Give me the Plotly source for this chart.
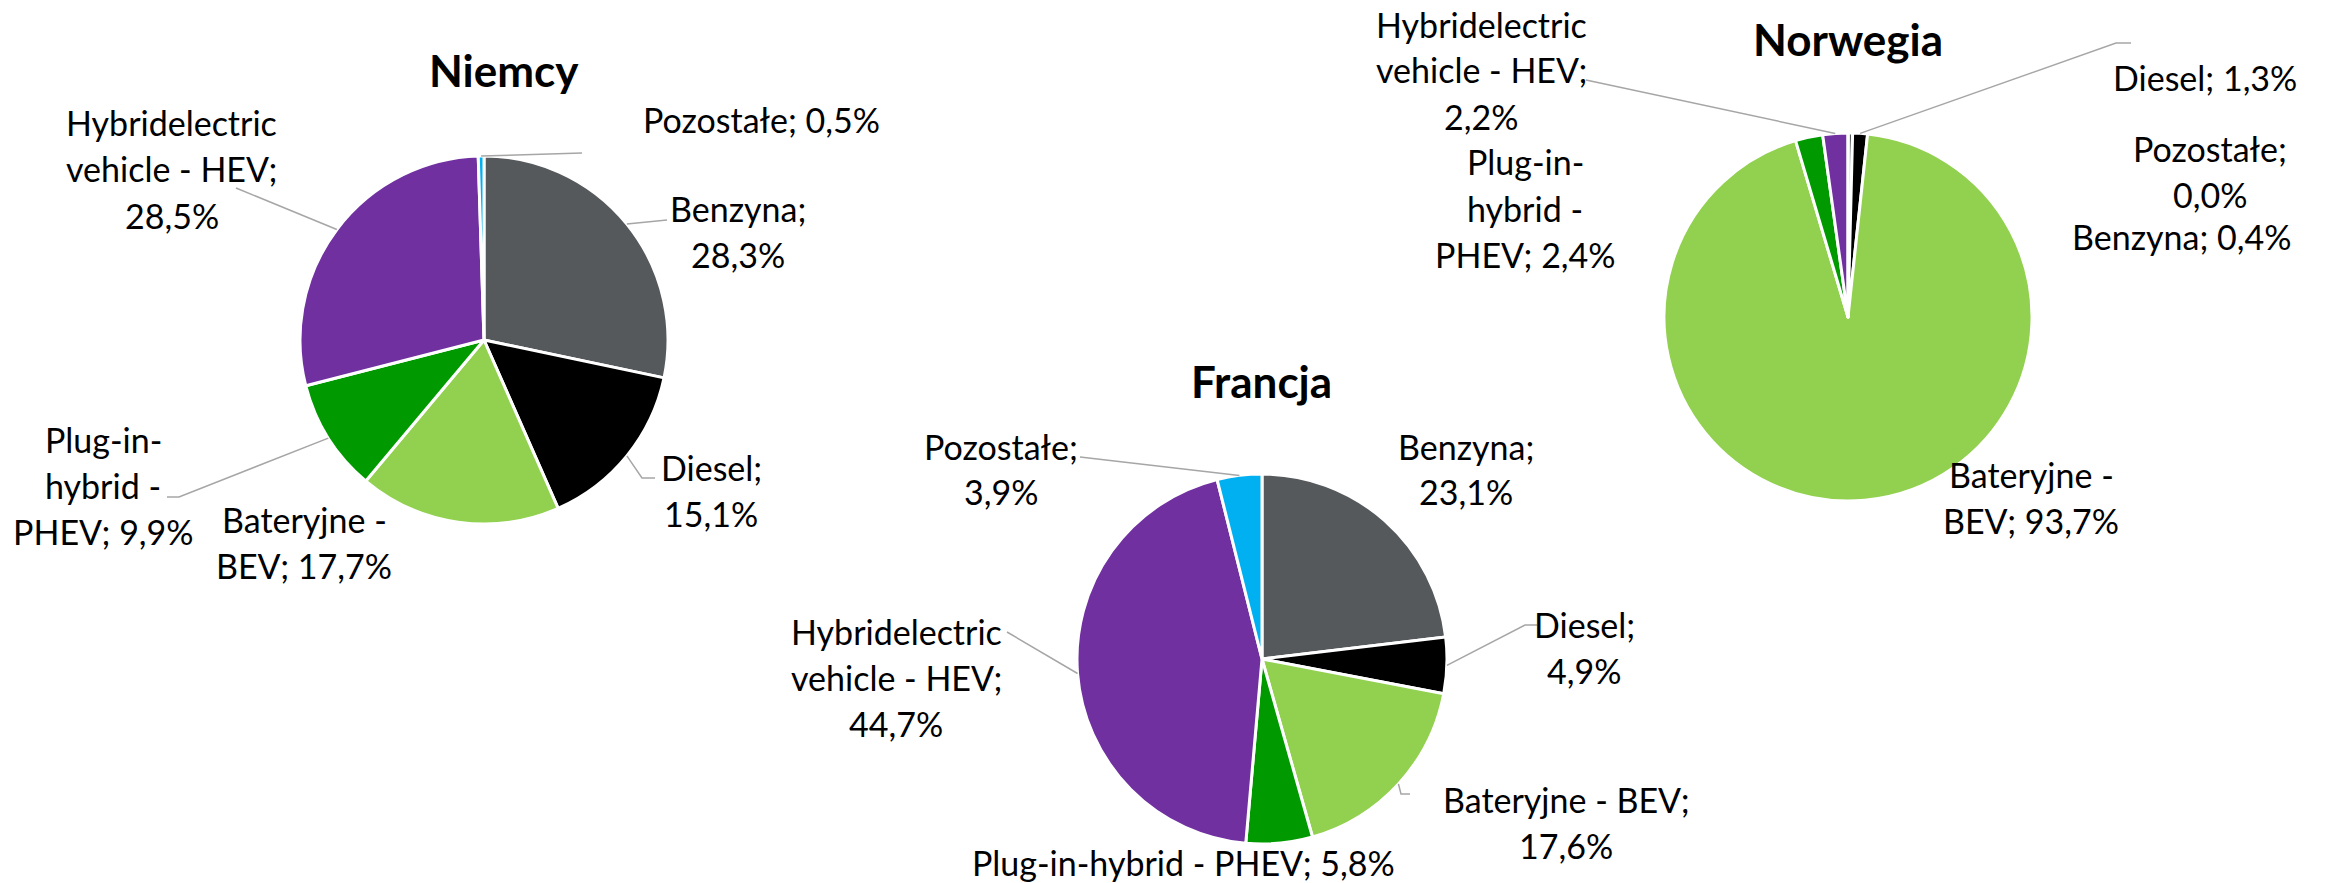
import math
import plotly.graph_objects as go

# ---------------- data ----------------
categories = ["Benzyna", "Diesel", "Bateryjne - BEV", "Plug-in-hybrid - PHEV",
              "Hybridelectric vehicle - HEV", "Pozostałe"]
countries = ["Niemcy", "Francja", "Norwegia"]
niemcy = [28.3, 15.1, 17.7, 9.9, 28.5, 0.5]
francja = [23.1, 4.9, 17.6, 5.8, 44.7, 3.9]
norwegia = [0.4, 1.3, 93.7, 2.4, 2.2, 0.0]
values = {"Niemcy": niemcy, "Francja": francja, "Norwegia": norwegia}

colors = ["#55595C", "#000000", "#92D050", "#009A00", "#7030A0", "#00B0F0"]

W, H = 2326, 883
FONT = "Lato, Carlito, Calibri, sans-serif"
LABEL_SIZE = 34
TITLE_SIZE = 44
LINE_STEP = 46
LEADER = "#A6A6A6"

# ---------------- layout (pixel geometry) ----------------
pies = {
    "Niemcy": dict(cx=484, cy=340, r=184, title=(504, 70)),
    "Francja": dict(cx=1262, cy=659, r=185, title=(1261, 381)),
    "Norwegia": dict(cx=1848, cy=317, r=184, title=(1848, 39)),
}

# label templates: lines, block centre (px), leader path points after slice point
labels = {
    "Niemcy": [
        (["Benzyna;", "{v}"], (738, 231), [(667, 220)]),
        (["Diesel;", "{v}"], (711, 490), [(642, 478), (655, 478)]),
        (["Bateryjne -", "BEV; {v}"], (304, 542), []),
        (["Plug-in-", "hybrid -", "PHEV; {v}"], (103, 485), [(179, 497), (167, 497)]),
        (["Hybridelectric", "vehicle - HEV;", "{v}"], (172, 169), [(236, 188)]),
        (["Pozostałe; {v}"], (761, 120), [(582, 153)]),
    ],
    "Francja": [
        (["Benzyna;", "{v}"], (1466, 469), []),
        (["Diesel;", "{v}"], (1584, 647), [(1525, 625), (1537, 625)]),
        (["Bateryjne - BEV;", "{v}"], (1566, 822), [(1401, 794), (1410, 794)]),
        (["Plug-in-hybrid - PHEV; {v}"], (1183, 862), []),
        (["Hybridelectric", "vehicle - HEV;", "{v}"], (896, 677), [(1007, 632)]),
        (["Pozostałe;", "{v}"], (1001, 469), [(1080, 457)]),
    ],
    "Norwegia": [
        (["Benzyna; {v}"], (2181, 236), []),
        (["Diesel; {v}"], (2205, 77), [(2116, 43), (2131, 43)]),
        (["Bateryjne -", "BEV; {v}"], (2031, 497), []),
        (["Plug-in-", "hybrid -", "PHEV; {v}"], (1525, 208), []),
        (["Hybridelectric", "vehicle - HEV;", "{v}"], (1481, 70), [(1586, 80)]),
        (["Pozostałe;", "{v}"], (2210, 171), []),
    ],
}


def px(x):
    return x / W


def py(y):
    return 1 - y / H


fig = go.Figure()
annotations = []
shapes = []

for c in countries:
    g = pies[c]
    vals = values[c]
    fig.add_trace(go.Pie(
        labels=categories, values=vals, sort=False, direction="clockwise",
        rotation=0, textinfo="none", hoverinfo="skip", showlegend=False,
        marker=dict(colors=colors, line=dict(color="white", width=3)),
        domain=dict(x=[px(g["cx"] - g["r"]), px(g["cx"] + g["r"])],
                    y=[py(g["cy"] + g["r"]), py(g["cy"] - g["r"])]),
        name=c,
    ))
    # title
    tx, ty = g["title"]
    annotations.append(dict(text="<b>%s</b>" % c, x=px(tx), y=py(ty), xref="paper", yref="paper",
                            showarrow=False, xanchor="center", yanchor="middle",
                            font=dict(family=FONT, size=TITLE_SIZE, color="black")))
    total = sum(vals)
    cum = 0.0
    for i, v in enumerate(vals):
        lines, (bx, by), leader = labels[c][i]
        vstr = ("%.1f%%" % v).replace(".", ",")
        n = len(lines)
        for k, ln in enumerate(lines):
            yk = by + (k - (n - 1) / 2) * LINE_STEP
            annotations.append(dict(text=ln.format(v=vstr), x=px(bx), y=py(yk),
                                    xref="paper", yref="paper", showarrow=False,
                                    xanchor="center", yanchor="middle",
                                    font=dict(family=FONT, size=LABEL_SIZE, color="black")))
        if leader:
            theta = 2 * math.pi * (cum + v / 2) / total
            sx = g["cx"] + g["r"] * math.sin(theta)
            sy = g["cy"] - g["r"] * math.cos(theta)
            pts = [(sx, sy)] + leader
            path = "M %f %f " % (px(pts[0][0]), py(pts[0][1])) + " ".join(
                "L %f %f" % (px(a), py(b)) for a, b in pts[1:])
            shapes.append(dict(type="path", path=path, xref="paper", yref="paper",
                               line=dict(color=LEADER, width=1.5)))
        cum += v

fig.update_layout(
    width=W, height=H, margin=dict(l=0, r=0, t=0, b=0),
    paper_bgcolor="white", plot_bgcolor="white",
    annotations=annotations, shapes=shapes,
    font=dict(family=FONT),
)

fig.write_html("out.html", config={"displayModeBar": False},
               post_script="document.body.style.margin='0';document.body.style.overflow='hidden';")
